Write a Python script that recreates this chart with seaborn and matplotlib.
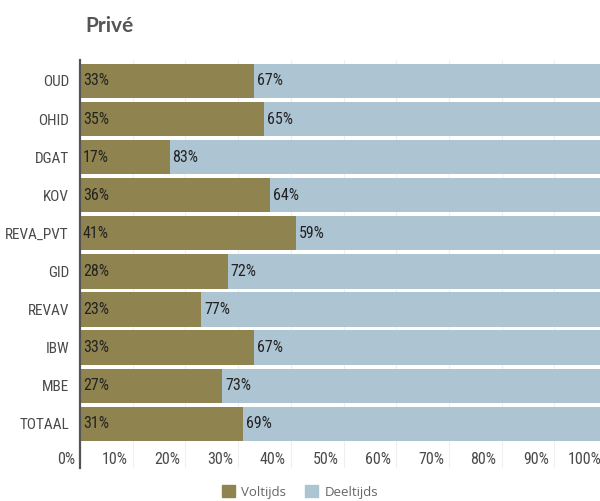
import matplotlib
matplotlib.use("Agg")
import matplotlib.pyplot as plt
import matplotlib.transforms as mtransforms
from matplotlib.patches import Patch
from matplotlib import font_manager
import seaborn as sns
import pandas as pd

categories = ["OUD", "OHID", "DGAT", "KOV", "REVA_PVT", "GID", "REVAV", "IBW", "MBE", "TOTAAL"]
voltijds = [33, 35, 17, 36, 41, 28, 23, 33, 27, 31]
deeltijds = [67, 65, 83, 64, 59, 72, 77, 67, 73, 69]
xticks = [0, 10, 20, 30, 40, 50, 60, 70, 80, 90, 100]
xtick_labels = [f"{t}%" for t in xticks]

C_VOL = "#8f8450"
C_DEEL = "#adc4d3"
TXT = "#4a4a4a"

names = {f.name for f in font_manager.fontManager.ttflist}
NARROW = [n for n in ["Liberation Sans Narrow", "DejaVu Sans Condensed", "Roboto Condensed",
                      "Open Sans Condensed"] if n in names] + ["DejaVu Sans"]

sns.set_theme(style="white")
plt.rcParams["font.family"] = ["DejaVu Sans"]

df = pd.DataFrame({"cat": categories, "vol": voltijds, "deel": deeltijds})
df["total"] = df["vol"] + df["deel"]

fig = plt.figure(figsize=(6.0, 5.01), dpi=100)
ax = fig.add_axes([80 / 600, 1 - 468 / 501, 527 / 600, (468 - 60) / 501])

sns.barplot(data=df, y="cat", x="total", color=C_DEEL, orient="h", width=0.9,
            saturation=1, ax=ax, zorder=2, linewidth=0)
sns.barplot(data=df, y="cat", x="vol", color=C_VOL, orient="h", width=0.9,
            saturation=1, ax=ax, zorder=3, linewidth=0)

ax.set_xlim(0, 100)
ax.set_ylim(10.16, -0.55)
ax.set_xlabel("")
ax.set_ylabel("")

for t in xticks[1:]:
    ax.axvline(t, color="#efefef", lw=0.8, zorder=0)

for s in ["top", "right", "bottom"]:
    ax.spines[s].set_visible(False)
ax.spines["left"].set_color("#555555")
ax.spines["left"].set_linewidth(1.6)
ax.spines["left"].set_zorder(5)

ax.set_xticks([])
ax.set_yticks(range(len(categories)))
ax.set_yticklabels(categories, fontsize=11, color=TXT, family=NARROW, fontstretch="condensed")
ax.tick_params(axis="y", length=0, pad=8)

off = mtransforms.offset_copy(ax.transData, fig=fig, x=-5, y=0, units="dots")
for t, lab in zip(xticks, xtick_labels):
    ax.text(t, 9.95, lab, transform=off, ha="right", va="center",
            fontsize=11.5, color=TXT, family=NARROW, fontstretch="condensed", clip_on=False)

off2 = mtransforms.offset_copy(ax.transData, fig=fig, x=3, y=0, units="dots")
for i, (v, d) in enumerate(zip(voltijds, deeltijds)):
    ax.text(0, i, f"{v}%", transform=off2, ha="left", va="center",
            fontsize=11.5, color="#222222", family=NARROW, fontstretch="condensed", zorder=6)
    ax.text(v, i, f"{d}%", transform=off2, ha="left", va="center",
            fontsize=11.5, color="#222222", family=NARROW, fontstretch="condensed", zorder=6)

fig.text(85 / 600, 1 - 26 / 501, "Privé", fontsize=15, fontweight="bold",
         color="#555555", ha="left", va="center", family=["Lato", "DejaVu Sans"])

handles = [Patch(color=C_VOL, label="Voltijds"), Patch(color=C_DEEL, label="Deeltijds")]
fig.legend(handles=handles, loc="center", bbox_to_anchor=(0.5, 1 - 492 / 501),
           ncol=2, frameon=False, handlelength=1.0, handleheight=1.0,
           handletextpad=0.5, columnspacing=1.4,
           prop={"family": ["Open Sans", "DejaVu Sans"], "size": 9.5},
           labelcolor="#666666")

fig.savefig("out.png", dpi=100)
